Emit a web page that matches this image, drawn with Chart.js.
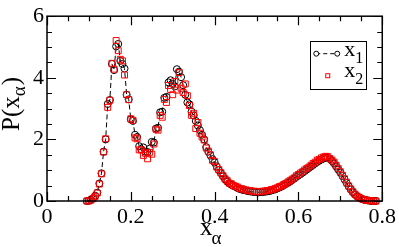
<!DOCTYPE html>
<html>
<head>
<meta charset="utf-8">
<script src="https://cdn.jsdelivr.net/npm/chart.js@4"></script>
<style>
html, body { margin: 0; padding: 0; background: #fff; }
</style>
</head>
<body>
<canvas id="myChart" width="399" height="247"></canvas>
<script>
// x_alpha bins
const xs = [0.095,0.1,0.105,0.11,0.115,0.12,0.125,0.13,0.135,0.14,0.145,0.15,0.155,0.16,0.165,0.17,0.175,0.18,0.185,0.19,
  0.195,0.2,0.205,0.21,0.215,0.22,0.225,0.23,0.235,0.24,0.245,0.25,0.255,0.26,0.265,0.27,0.275,0.28,0.285,0.29,
  0.295,0.3,0.305,0.31,0.315,0.32,0.325,0.33,0.335,0.34,0.345,0.35,0.355,0.36,0.365,0.37,0.375,0.38,0.385,0.39,
  0.395,0.4,0.405,0.41,0.415,0.42,0.425,0.43,0.435,0.44,0.445,0.45,0.455,0.46,0.465,0.47,0.475,0.48,0.485,0.49,
  0.495,0.5,0.505,0.51,0.515,0.52,0.525,0.53,0.535,0.54,0.545,0.55,0.555,0.56,0.565,0.57,0.575,0.58,0.585,0.59,
  0.595,0.6,0.605,0.61,0.615,0.62,0.625,0.63,0.635,0.64,0.645,0.65,0.655,0.66,0.665,0.67,0.675,0.68,0.685,0.69,
  0.695,0.7,0.705,0.71,0.715,0.72,0.725,0.73,0.735,0.74,0.745,0.75,0.755,0.76,0.765,0.77,0.775,0.78,0.785];

// P(x_1)
const p1 = [0.00,0.01,0.04,0.09,0.17,0.27,0.57,0.90,1.60,2.00,3.15,3.28,4.45,4.25,5.02,5.10,4.55,4.45,4.30,3.45,
  3.30,2.65,2.60,2.15,2.08,1.78,1.68,1.74,1.60,1.59,1.70,1.92,1.90,2.35,2.38,2.88,2.90,3.35,3.38,3.85,
  3.92,3.80,3.72,4.28,4.20,4.02,3.76,3.45,3.20,3.14,2.90,2.78,2.60,2.45,2.30,2.15,2.00,1.75,1.60,1.48,
  1.36,1.25,1.12,1.00,0.90,0.80,0.70,0.63,0.57,0.53,0.49,0.46,0.42,0.39,0.37,0.35,0.34,0.32,0.31,0.30,
  0.29,0.29,0.28,0.29,0.29,0.30,0.31,0.32,0.34,0.36,0.38,0.41,0.44,0.47,0.51,0.55,0.59,0.63,0.68,0.73,
  0.78,0.83,0.87,0.92,0.97,1.02,1.07,1.12,1.17,1.22,1.27,1.31,1.35,1.38,1.41,1.40,1.36,1.30,1.22,1.12,
  1.02,0.92,0.81,0.70,0.58,0.47,0.37,0.28,0.21,0.15,0.11,0.07,0.05,0.03,0.02,0.01,0.00,0.00,0.00];

// P(x_2)
const p2 = [0.00,0.00,0.03,0.08,0.15,0.26,0.55,0.88,1.59,2.02,3.04,3.27,4.47,4.28,5.21,4.88,4.60,4.55,4.09,3.45,
  3.29,2.67,2.62,2.05,2.02,1.66,1.66,1.48,1.55,1.37,1.58,1.52,1.85,2.33,2.30,2.78,2.72,3.30,3.20,3.75,
  3.62,3.45,3.88,3.60,4.17,3.66,3.52,3.80,3.42,3.10,2.78,2.85,2.35,2.55,2.20,2.08,1.98,1.72,1.62,1.50,
  1.32,1.28,1.10,1.02,0.92,0.82,0.72,0.66,0.58,0.56,0.50,0.48,0.45,0.40,0.40,0.36,0.36,0.33,0.34,0.31,
  0.32,0.30,0.31,0.30,0.32,0.32,0.34,0.34,0.37,0.38,0.41,0.43,0.47,0.49,0.54,0.57,0.62,0.66,0.71,0.75,
  0.82,0.86,0.91,0.95,1.01,1.06,1.10,1.16,1.22,1.26,1.33,1.35,1.40,1.43,1.45,1.44,1.38,1.33,1.26,1.16,
  1.05,0.95,0.84,0.72,0.61,0.49,0.39,0.30,0.22,0.16,0.12,0.08,0.05,0.03,0.02,0.01,0.00,0.00,0.00];

const xTicks = [0, 0.2, 0.4, 0.6, 0.8];
const yTicks = [0, 2, 4, 6];

const serif = '"Liberation Serif", "Times New Roman", serif';

// frame with inward ticks on all four sides, axis titles and the boxed legend
const decorations = {
  id: 'decorations',
  afterDraw(chart) {
    const c = chart.ctx;
    const a = chart.chartArea;
    const sx = chart.scales.x, sy = chart.scales.y;
    c.save();
    c.strokeStyle = '#000';
    c.lineWidth = 1.5;
    c.strokeRect(a.left, a.top, a.right - a.left, a.bottom - a.top);

    c.lineWidth = 1.2;
    c.beginPath();
    for (let i = 0; i <= 16; i++) {
      const px = Math.round(sx.getPixelForValue(i * 0.05)) + 0.5;
      const len = i % 4 === 0 ? 9 : 5;
      c.moveTo(px, a.bottom); c.lineTo(px, a.bottom - len);
      c.moveTo(px, a.top); c.lineTo(px, a.top + len);
    }
    for (let i = 0; i <= 12; i++) {
      const py = Math.round(sy.getPixelForValue(i * 0.5)) + 0.5;
      const len = i % 4 === 0 ? 9 : 5;
      c.moveTo(a.left, py); c.lineTo(a.left + len, py);
      c.moveTo(a.right, py); c.lineTo(a.right - len, py);
    }
    c.stroke();

    c.fillStyle = '#000';
    c.textBaseline = 'alphabetic';
    c.textAlign = 'left';

    // y title P(x_alpha)
    c.save();
    c.translate(19, 104);
    c.rotate(-Math.PI / 2);
    const big = '25px ' + serif, sub = '19px ' + serif;
    c.font = big;
    const wA = c.measureText('P(x').width;
    const wC = c.measureText(')').width;
    c.font = sub;
    const wB = c.measureText('\u03b1').width + 1;
    let s = -(wA + wB + wC) / 2;
    c.font = big; c.fillText('P(x', s, 0);
    c.font = sub; c.fillText('\u03b1', s + wA, 6);
    c.font = big; c.fillText(')', s + wA + wB, 0);
    c.restore();

    // x title x_alpha
    c.font = big;
    const wx = c.measureText('x').width;
    c.fillText('x', 200, 235);
    c.font = sub;
    c.fillText('\u03b1', 200 + wx - 1, 244);

    // legend
    const lx = a.right - 72, ly = a.top + 25, lw = 56, lh = 48;
    c.lineWidth = 1;
    c.strokeRect(Math.round(lx) + 0.5, Math.round(ly) + 0.5, lw, lh);
    c.setLineDash([4, 3]);
    c.beginPath();
    c.moveTo(lx + 6, ly + 12.5); c.lineTo(lx + 27, ly + 12.5);
    c.stroke();
    c.setLineDash([]);
    [lx + 6, lx + 27].forEach(cx => {
      c.beginPath();
      c.arc(cx, ly + 12.5, 2.5, 0, Math.PI * 2);
      c.fillStyle = '#fff'; c.fill();
      c.stroke();
    });
    c.strokeStyle = 'red';
    c.strokeRect(lx + 15.5, ly + 32.5, 4, 4);
    c.fillStyle = '#000';
    c.font = '22px ' + serif;
    c.fillText('x', lx + 34, ly + 15);
    c.fillText('x', lx + 34, ly + 36);
    c.font = '16px ' + serif;
    c.fillText('1', lx + 45, ly + 22);
    c.fillText('2', lx + 45, ly + 43);
    c.restore();
  }
};

const ctx = document.getElementById('myChart').getContext('2d');
new Chart(ctx, {
  type: 'line',
  data: {
    datasets: [
      {
        label: 'x1',
        data: xs.map((x, i) => ({ x: x, y: p1[i] })),
        borderColor: '#000',
        borderWidth: 1,
        borderDash: [5, 3],
        pointStyle: 'circle',
        pointRadius: 3.5,
        pointBorderWidth: 1,
        pointBorderColor: '#000',
        pointBackgroundColor: 'rgba(0,0,0,0)',
        tension: 0,
        clip: 8,
        order: 1
      },
      {
        label: 'x2',
        data: xs.map((x, i) => ({ x: x, y: p2[i] })),
        showLine: false,
        borderColor: 'red',
        pointStyle: 'rect',
        pointRadius: 4.2,
        pointBorderWidth: 1,
        pointBorderColor: 'red',
        pointBackgroundColor: 'rgba(0,0,0,0)',
        clip: 8,
        order: 0
      }
    ]
  },
  options: {
    responsive: false,
    animation: false,
    devicePixelRatio: 1,
    layout: { padding: { top: 8, right: 14, left: 0, bottom: 0 } },
    plugins: { legend: { display: false }, tooltip: { enabled: false } },
    scales: {
      x: {
        type: 'linear',
        min: 0,
        max: 0.8,
        afterBuildTicks: s => { s.ticks = xTicks.map(v => ({ value: v })); },
        afterFit: s => { s.height = 46; },
        grid: { display: false, drawTicks: false },
        border: { display: false },
        ticks: {
          padding: 3,
          color: '#000',
          font: { family: serif, size: 22 },
          callback: v => String(v)
        }
      },
      y: {
        min: 0,
        max: 6,
        afterBuildTicks: s => { s.ticks = yTicks.map(v => ({ value: v })); },
        afterFit: s => { s.width = 47; },
        grid: { display: false, drawTicks: false },
        border: { display: false },
        ticks: {
          padding: 3,
          color: '#000',
          font: { family: serif, size: 22 },
          callback: v => String(v)
        }
      }
    }
  },
  plugins: [decorations]
});
</script>
</body>
</html>
